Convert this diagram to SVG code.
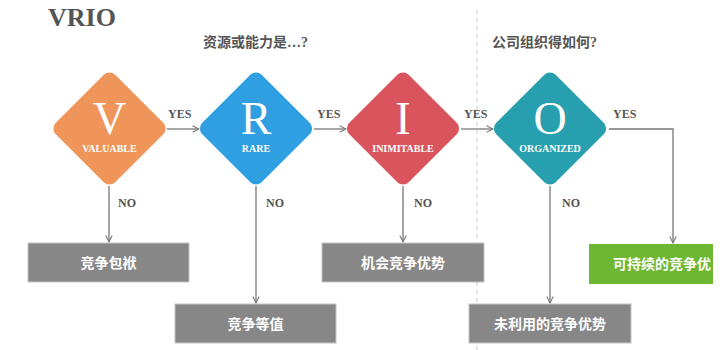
<svg xmlns="http://www.w3.org/2000/svg" width="726" height="350" viewBox="0 0 726 350">
<style>
.hdr{font-family:"Liberation Serif","Noto Sans CJK SC",serif;font-weight:bold;fill:#555;}
.cjk{font-family:"Liberation Serif","Noto Sans CJK SC",serif;font-weight:bold;}
.big{font-family:"Liberation Serif",serif;font-size:46px;fill:#fff;text-anchor:middle;}
.sub{font-family:"Liberation Serif",serif;font-size:10px;font-weight:bold;fill:#fff;text-anchor:middle;}
.lbl{font-family:"Liberation Serif",serif;font-size:12px;font-weight:bold;fill:#555;}
.box{fill:#878787;stroke:#c4c4c4;stroke-width:1;}
.boxt{font-size:14px;fill:#fff;text-anchor:middle;}
.ln{fill:none;stroke:#777;stroke-width:1.3;}
</style>
<defs>
<marker id="ah" viewBox="0 0 10 10" refX="9" refY="5" markerWidth="8" markerHeight="8" markerUnits="userSpaceOnUse" orient="auto">
<path d="M1,1 L9,5 L1,9" fill="none" stroke="#777" stroke-width="1.3"/>
</marker>
</defs>
<rect width="726" height="350" fill="#fff"/>
<line x1="477" y1="10" x2="477" y2="350" stroke="#ccc" stroke-width="1" stroke-dasharray="4 4"/>
<text x="48" y="26" font-family="Liberation Serif, serif" font-weight="bold" font-size="26" fill="#555">VRIO</text>
<text class="hdr" x="203" y="47" font-size="14">资源或能力是…?</text>
<text class="hdr" x="492" y="47" font-size="14">公司组织得如何?</text>
<g id="connectors">
<path class="ln" d="M167,129 L199,129" marker-end="url(#ah)"/>
<path class="ln" d="M314,129 L346,129" marker-end="url(#ah)"/>
<path class="ln" d="M461,129 L493,129" marker-end="url(#ah)"/>
<path class="ln" d="M609,129 L673,129 L673,243" marker-end="url(#ah)"/>
<path class="ln" d="M109,186 L109,242" marker-end="url(#ah)"/>
<path class="ln" d="M256,186 L256,303" marker-end="url(#ah)"/>
<path class="ln" d="M403,186 L403,242" marker-end="url(#ah)"/>
<path class="ln" d="M550,186 L550,303" marker-end="url(#ah)"/>
<text class="lbl" x="168" y="118">YES</text>
<text class="lbl" x="317" y="118">YES</text>
<text class="lbl" x="464" y="118">YES</text>
<text class="lbl" x="613" y="118">YES</text>
<text class="lbl" x="118" y="207">NO</text>
<text class="lbl" x="266" y="207">NO</text>
<text class="lbl" x="414" y="207">NO</text>
<text class="lbl" x="562" y="207">NO</text>
</g>
<g id="V">
<rect x="-42" y="-42" width="84" height="84" rx="8" transform="translate(109.5,128.5) rotate(45)" fill="#F0955A"/>
<text class="big" x="109.5" y="134">V</text>
<text class="sub" x="109.5" y="152">VALUABLE</text>
</g>
<g id="R">
<rect x="-42" y="-42" width="84" height="84" rx="8" transform="translate(256,128.5) rotate(45)" fill="#2F9FE2"/>
<text class="big" x="256" y="134">R</text>
<text class="sub" x="256" y="152">RARE</text>
</g>
<g id="I">
<rect x="-42" y="-42" width="84" height="84" rx="8" transform="translate(403,128.5) rotate(45)" fill="#DA545E"/>
<text class="big" x="403" y="134">I</text>
<text class="sub" x="403" y="152">INIMITABLE</text>
</g>
<g id="O">
<rect x="-42" y="-42" width="84" height="84" rx="8" transform="translate(550,128.5) rotate(45)" fill="#279FAE"/>
<text class="big" x="550" y="134">O</text>
<text class="sub" x="550" y="152">ORGANIZED</text>
</g>
<g id="box1">
<rect class="box" x="28" y="243" width="161" height="39"/>
<text class="cjk boxt" x="108.5" y="268">竞争包袱</text>
</g>
<g id="box2">
<rect class="box" x="175" y="304" width="161" height="39"/>
<text class="cjk boxt" x="255.5" y="329">竞争等值</text>
</g>
<g id="box3">
<rect class="box" x="322" y="243" width="162" height="39"/>
<text class="cjk boxt" x="403" y="268">机会竞争优势</text>
</g>
<g id="box4">
<rect class="box" x="469" y="304" width="162" height="39"/>
<text class="cjk boxt" x="550" y="329">未利用的竞争优势</text>
</g>
<g id="box5">
<rect x="589" y="244" width="124" height="40" fill="#6DB733"/>
<text class="cjk" x="613" y="269" font-size="14" fill="#fff">可持续的竞争优</text>
</g>
</svg>
